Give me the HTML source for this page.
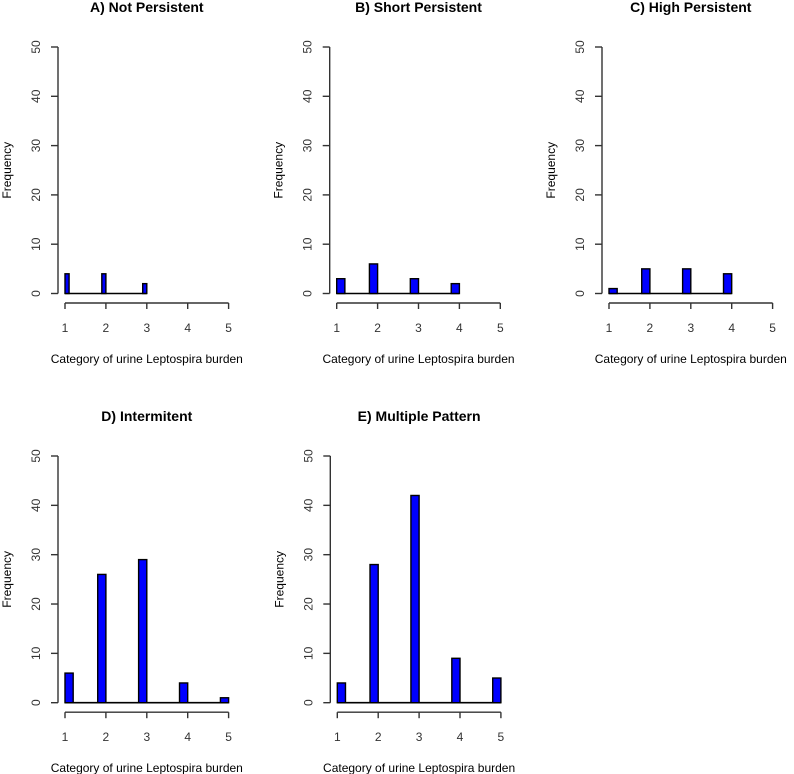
<!DOCTYPE html>
<html><head><meta charset="utf-8"><style>
html,body{margin:0;padding:0;background:#fff;}
svg{display:block;font-family:"Liberation Sans",Arial,sans-serif;}
</style></head><body>
<svg id="chart" width="794" height="774" viewBox="0 0 794 774" xmlns="http://www.w3.org/2000/svg"></svg>
<script>
const titles = ["A) Not Persistent","B) Short Persistent","C) High Persistent","D) Intermitent","E) Multiple Pattern"];
const categories = [1,2,3,4,5];
const countsA = [4,4,2,0,0];
const countsB = [3,6,3,2,0];
const countsC = [1,5,5,4,0];
const countsD = [6,26,29,4,1];
const countsE = [4,28,42,9,5];
const binWidths = [0.1,0.2,0.2,0.2,0.2];
const yTicks = [0,10,20,30,40,50];
const xTicks = [1,2,3,4,5];
const allCounts = [countsA,countsB,countsC,countsD,countsE];

const NS = "http://www.w3.org/2000/svg";
const svg = document.getElementById('chart');
function mk(tag, attrs, parent){
  const e = document.createElementNS(NS, tag);
  for (const k in attrs) e.setAttribute(k, attrs[k]);
  (parent||svg).appendChild(e);
  return e;
}
const panelX = [65, 336.7, 609, 65, 337.3];
const panelRow = [0,0,0,1,1];
const rowTop = [47, 456];
const rowZero = [293.5, 702.7];
const xUnit = 40.9;
const axCol = '#333';

for (let p=0;p<5;p++){
  const g = mk('g', {});
  
  
  const x1 = panelX[p], r = panelRow[p];
  const y0 = rowZero[r], yT = rowTop[r];
  const sx = v => x1 + (v-1)*xUnit;
  const sy = v => y0 - (v/50)*(y0-yT);
  const axX = x1 - 7;
  const xAxY = y0 + 9.5;
  const t = mk('text', {x: sx(3), y: yT - 35, 'text-anchor':'middle', 'font-size':'14', 'font-weight':'bold', fill:'#000'}, g);
  t.textContent = titles[p];
  
  
  const ya = mk('line', {x1:axX, y1:sy(0), x2:axX, y2:sy(50), stroke:axCol, 'stroke-width':1.4}, g);
  
  
  for (const v of yTicks){
    mk('line', {x1:axX-7, y1:sy(v), x2:axX, y2:sy(v), stroke:axCol, 'stroke-width':1.4}, g);
    const tl = mk('text', {x:0, y:0, transform:`translate(${axX-18},${sy(v)}) rotate(-90)`, 'text-anchor':'middle', 'font-size':'12', fill:'#333'}, g);
    tl.textContent = v;
    
    
  }
  const yl = mk('text', {x:0, y:0, transform:`translate(${axX-47},${(sy(0)+sy(50))/2}) rotate(-90)`, 'text-anchor':'middle', 'font-size':'12', fill:'#000'}, g);
  yl.textContent = 'Frequency';
  
  
  const xa = mk('line', {x1:sx(1), y1:xAxY, x2:sx(5), y2:xAxY, stroke:axCol, 'stroke-width':1.4}, g);
  
  
  for (const v of xTicks){
    mk('line', {x1:sx(v), y1:xAxY, x2:sx(v), y2:xAxY+6, stroke:axCol, 'stroke-width':1.4}, g);
    const tl = mk('text', {x:sx(v), y:xAxY+29, 'text-anchor':'middle', 'font-size':'12', fill:'#333'}, g);
    tl.textContent = v;
    
    
  }
  const xl = mk('text', {x:sx(3), y:xAxY+60, 'text-anchor':'middle', 'font-size':'12', fill:'#000'}, g);
  xl.textContent = 'Category of urine Leptospira burden';
  
  
  const counts = allCounts[p];
  let lastNonZero = 0;
  counts.forEach((c,i)=>{ if(c>0) lastNonZero=i; });
  mk('line', {x1:sx(1), y1:y0, x2:sx(categories[lastNonZero]), y2:y0, stroke:'#000', 'stroke-width':1.6}, g);
  const w = binWidths[p];
  counts.forEach((c,i)=>{
    if (c<=0) return;
    const cat = categories[i];
    const lo = i===0 ? cat : cat - w;
    const hi = i===0 ? cat + w : cat;
    const b = mk('rect', {x:sx(lo), y:sy(c), width:sx(hi)-sx(lo), height:sy(0)-sy(c), fill:'#0000ff', stroke:'#000', 'stroke-width':1.4}, g);
    
    
  });
}
</script>
</body></html>
